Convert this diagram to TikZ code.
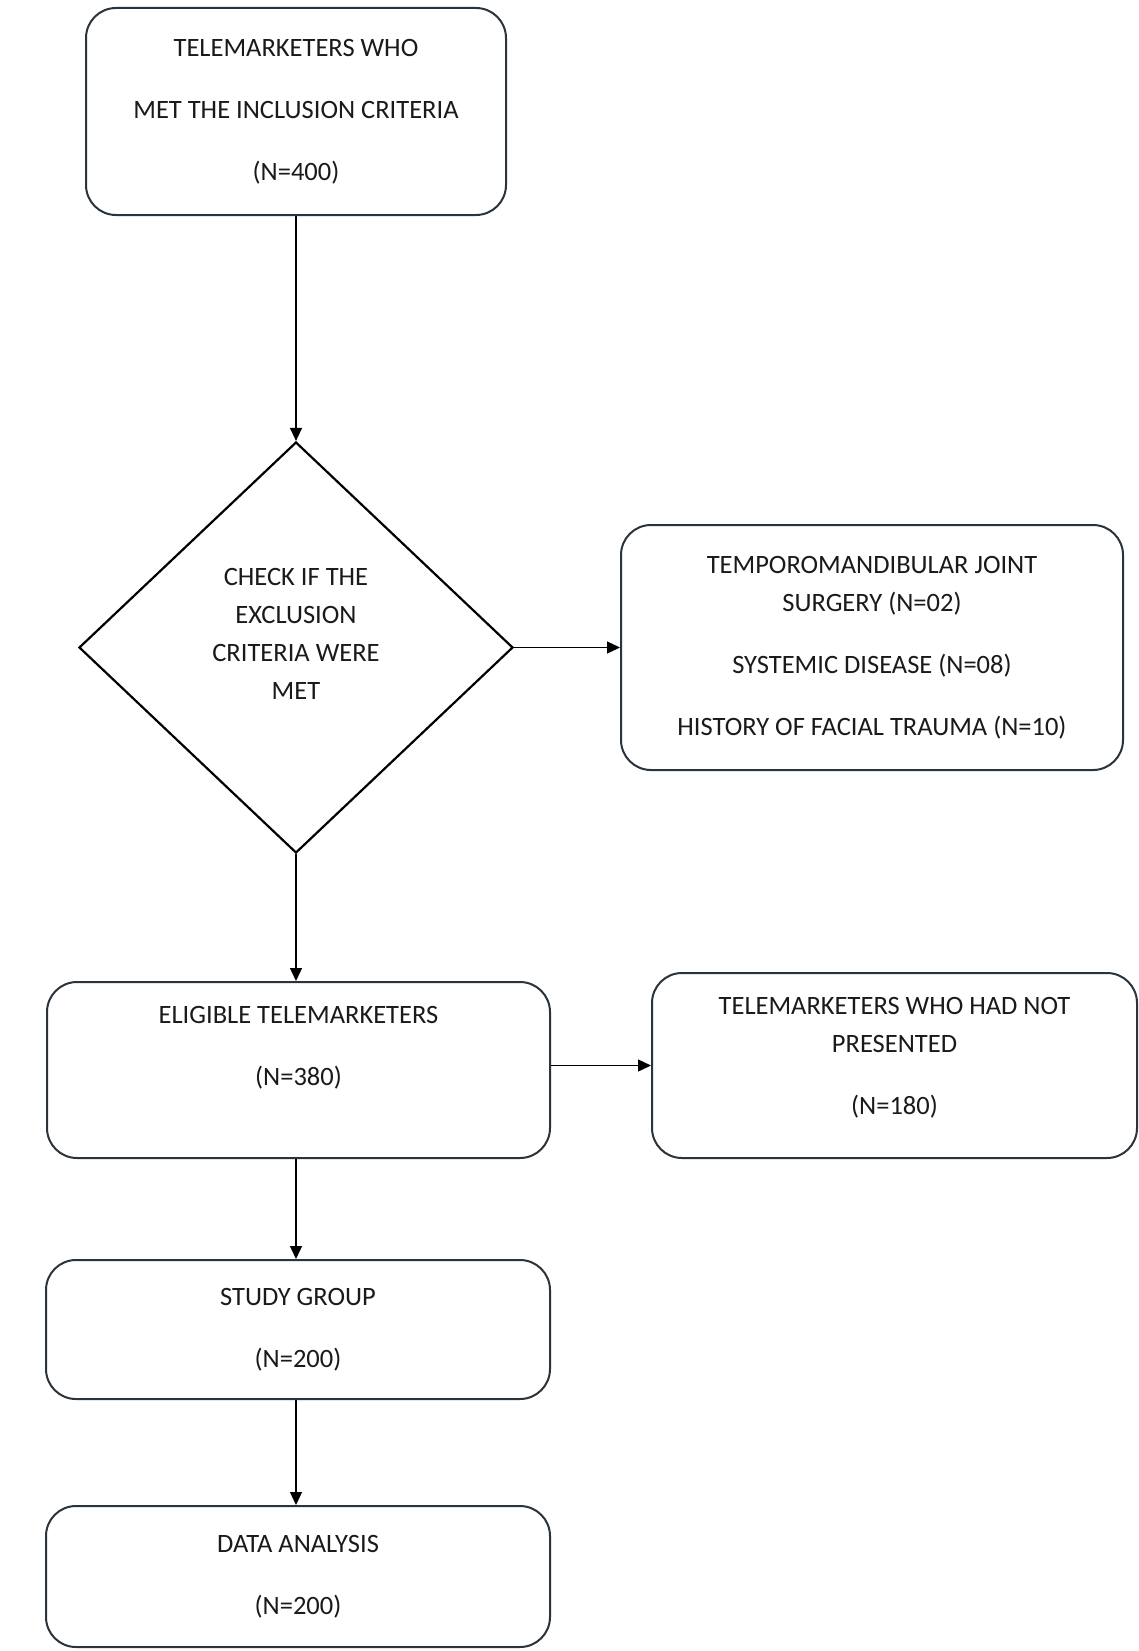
\documentclass[tikz,border=0pt]{standalone}
\usepackage{fontspec}
\setmainfont{Carlito}
\usetikzlibrary{shapes.geometric,arrows.meta,calc}
\definecolor{boxline}{HTML}{2B333B}
\definecolor{txtc}{HTML}{1A1A1A}
\begin{document}
\begin{tikzpicture}[x=1pt,y=-1pt,
  box/.style={draw=boxline, line width=2pt, rounded corners=30pt, align=center,
    inner sep=0pt, font=\fontsize{26.5}{38}\selectfont, text=txtc},
  dia/.style={draw=black, line width=2.2pt, diamond, align=center, inner sep=0pt,
    font=\fontsize{26.5}{38}\selectfont, text=txtc},
  arr/.style={-{Triangle[length=13pt,width=12pt]}, line width=1.3pt, draw=black}
]
\useasboundingbox[fill=white] (0,0) rectangle (1139,1651);

\node[box, minimum width=420pt, minimum height=207pt] (incl) at (296,111.5)
  {TELEMARKETERS WHO\\[24pt]MET THE INCLUSION CRITERIA\\[24pt](N=400)};

\node[dia, minimum width=434pt, minimum height=411pt] (check) at (296,647.5)
  {CHECK IF THE\\EXCLUSION\\CRITERIA WERE\\MET\\[-11pt]\mbox{}};

\node[box, minimum width=502pt, minimum height=245pt] (excl) at (872,647.5)
  {TEMPOROMANDIBULAR JOINT\\SURGERY (N=02)\\[24pt]SYSTEMIC DISEASE (N=08)\\[24pt]HISTORY OF FACIAL TRAUMA (N=10)};

\node[box, minimum width=503pt, minimum height=176pt] (elig) at (298.5,1070)
  {ELIGIBLE TELEMARKETERS\\[24pt](N=380)\\[11pt]\mbox{}};

\node[box, minimum width=485pt, minimum height=185pt] (notp) at (894.5,1065.5)
  {TELEMARKETERS WHO HAD NOT\\PRESENTED\\[24pt](N=180)\\[-18pt]\mbox{}};

\node[box, minimum width=504pt, minimum height=139pt] (study) at (298,1329.5)
  {STUDY GROUP\\[24pt](N=200)};

\node[box, minimum width=504pt, minimum height=141pt] (data) at (298,1576.5)
  {DATA ANALYSIS\\[24pt](N=200)};

\draw[arr] (incl.south) -- (check.north);
\draw[arr] (check.east) -- (excl.west);
\draw[arr] (check.south) -- (check.south |- elig.north);
\draw[arr] (elig.east |- notp.west) -- (notp.west);
\draw[arr] (check.south |- elig.south) -- (check.south |- study.north);
\draw[arr] (check.south |- study.south) -- (check.south |- data.north);
\end{tikzpicture}
\end{document}
